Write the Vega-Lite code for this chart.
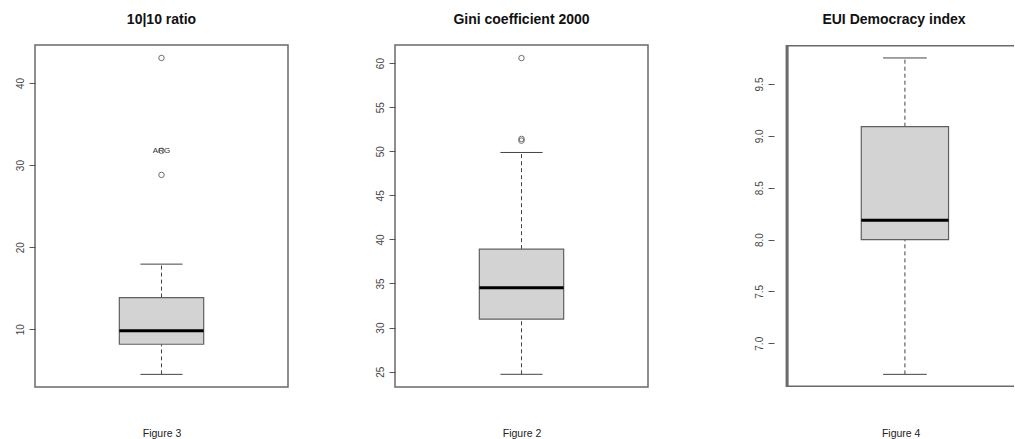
{
  "$schema": "https://vega.github.io/schema/vega-lite/v6.json",
  "padding": {"left": 14, "top": 12, "right": 0, "bottom": 0},
  "background": "white",
  "config": {
    "font": "Liberation Sans",
    "view": {"stroke": "#6a6a6a", "strokeWidth": 1.5},
    "title": {"fontSize": 14, "fontWeight": "bold", "font": "Liberation Sans", "color": "#111111", "offset": 18, "anchor": "middle"},
    "axisX": {"grid": false, "titleFontSize": 10.5, "titleFontWeight": "normal", "titleColor": "#222222", "titleFont": "Liberation Sans"},
    "axisY": {"domain": false, "grid": false, "tickSize": 6, "tickColor": "#555555", "tickWidth": 1, "labelAngle": -90, "labelColor": "#444444", "labelFontSize": 10, "labelPadding": 4, "labelFont": "Liberation Sans", "labelBaseline": "bottom", "labelAlign": "center"}
  },
  "spacing": 105,
  "hconcat": [
    {
      "spacing": 85,
      "hconcat": [
        {
          "width": 253, "height": 342,
          "title": "10|10 ratio",
          "data": {"values": [{"panel": "10|10 ratio", "lo": 4.5, "q1": 8.17, "med": 9.8, "q3": 13.85, "hi": 17.93}]},
          "layer": [
            {"mark": {"type": "rule", "strokeDash": [4, 3], "color": "#444444", "strokeWidth": 1},
             "encoding": {"x": {"datum": 1, "type": "quantitative", "scale": {"domain": [0.46, 1.54], "padding": 0}, "axis": {"title": "Figure 3", "domain": false, "ticks": false, "labels": false, "titlePadding": 41, "titleColor": "#222222", "titleFontWeight": "normal"}},
                          "y": {"field": "lo", "type": "quantitative", "scale": {"domain": [2.96, 44.63], "nice": false, "zero": false, "padding": 0}, "axis": {"values": [10, 20, 30, 40]}, "title": null},
                          "y2": {"field": "q1"}}},
            {"mark": {"type": "rule", "strokeDash": [4, 3], "color": "#444444", "strokeWidth": 1},
             "encoding": {"x": {"datum": 1, "type": "quantitative"},
                          "y": {"field": "q3", "type": "quantitative", "title": null},
                          "y2": {"field": "hi"}}},
            {"mark": {"type": "rule", "color": "#444444", "strokeWidth": 1},
             "encoding": {"x": {"datum": 0.9, "type": "quantitative"}, "x2": {"datum": 1.1},
                          "y": {"field": "lo", "type": "quantitative", "title": null}}},
            {"mark": {"type": "rule", "color": "#444444", "strokeWidth": 1},
             "encoding": {"x": {"datum": 0.9, "type": "quantitative"}, "x2": {"datum": 1.1},
                          "y": {"field": "hi", "type": "quantitative", "title": null}}},
            {"mark": {"type": "rect", "fill": "#d3d3d3", "stroke": "#606060", "strokeWidth": 1.2},
             "encoding": {"x": {"datum": 0.8, "type": "quantitative"}, "x2": {"datum": 1.2},
                          "y": {"field": "q1", "type": "quantitative", "title": null}, "y2": {"field": "q3"}}},
            {"mark": {"type": "rule", "color": "#000000", "strokeWidth": 3},
             "encoding": {"x": {"datum": 0.8, "type": "quantitative"}, "x2": {"datum": 1.2},
                          "y": {"field": "med", "type": "quantitative", "title": null}}},
            {"data": {"values": [{"value": 43.05}, {"value": 31.74}, {"value": 28.8}]},
             "mark": {"type": "point", "shape": "circle", "filled": false, "size": 30, "stroke": "#333333", "strokeWidth": 1},
             "encoding": {"x": {"datum": 1, "type": "quantitative"},
                          "y": {"field": "value", "type": "quantitative", "title": null}}},
            {"data": {"values": [{"value": 31.74, "label": "ARG"}]},
             "mark": {"type": "text", "fontSize": 8, "color": "#333333", "align": "center", "baseline": "middle", "font": "Liberation Sans"},
             "encoding": {"x": {"datum": 1, "type": "quantitative"},
                          "y": {"field": "value", "type": "quantitative", "title": null},
                          "text": {"field": "label"}}}
          ]
        },
        {
          "width": 253, "height": 342,
          "title": "Gini coefficient 2000",
          "data": {"values": [{"panel": "Gini coefficient 2000", "lo": 24.7, "q1": 30.95, "med": 34.53, "q3": 38.89, "hi": 49.86}]},
          "layer": [
            {"mark": {"type": "rule", "strokeDash": [4, 3], "color": "#444444", "strokeWidth": 1},
             "encoding": {"x": {"datum": 1, "type": "quantitative", "scale": {"domain": [0.46, 1.54], "padding": 0}, "axis": {"title": "Figure 2", "domain": false, "ticks": false, "labels": false, "titlePadding": 41, "titleColor": "#222222", "titleFontWeight": "normal"}},
                          "y": {"field": "lo", "type": "quantitative", "scale": {"domain": [23.26, 62.05], "nice": false, "zero": false, "padding": 0}, "axis": {"values": [25, 30, 35, 40, 45, 50, 55, 60]}, "title": null},
                          "y2": {"field": "q1"}}},
            {"mark": {"type": "rule", "strokeDash": [4, 3], "color": "#444444", "strokeWidth": 1},
             "encoding": {"x": {"datum": 1, "type": "quantitative"},
                          "y": {"field": "q3", "type": "quantitative", "title": null},
                          "y2": {"field": "hi"}}},
            {"mark": {"type": "rule", "color": "#444444", "strokeWidth": 1},
             "encoding": {"x": {"datum": 0.9, "type": "quantitative"}, "x2": {"datum": 1.1},
                          "y": {"field": "lo", "type": "quantitative", "title": null}}},
            {"mark": {"type": "rule", "color": "#444444", "strokeWidth": 1},
             "encoding": {"x": {"datum": 0.9, "type": "quantitative"}, "x2": {"datum": 1.1},
                          "y": {"field": "hi", "type": "quantitative", "title": null}}},
            {"mark": {"type": "rect", "fill": "#d3d3d3", "stroke": "#606060", "strokeWidth": 1.2},
             "encoding": {"x": {"datum": 0.8, "type": "quantitative"}, "x2": {"datum": 1.2},
                          "y": {"field": "q1", "type": "quantitative", "title": null}, "y2": {"field": "q3"}}},
            {"mark": {"type": "rule", "color": "#000000", "strokeWidth": 3},
             "encoding": {"x": {"datum": 0.8, "type": "quantitative"}, "x2": {"datum": 1.2},
                          "y": {"field": "med", "type": "quantitative", "title": null}}},
            {"data": {"values": [{"value": 60.57}, {"value": 51.2}, {"value": 51.4}]},
             "mark": {"type": "point", "shape": "circle", "filled": false, "size": 30, "stroke": "#333333", "strokeWidth": 1},
             "encoding": {"x": {"datum": 1, "type": "quantitative"},
                          "y": {"field": "value", "type": "quantitative", "title": null}}}
          ]
        }
      ]
    },
    {
      "width": 240, "height": 342,
      "view": {"stroke": null},
      "title": "EUI Democracy index",
      "data": {"values": [{"panel": "EUI Democracy index", "lo": 6.7, "q1": 8.0, "med": 8.187, "q3": 9.088, "hi": 9.751}]},
      "layer": [
        {"mark": {"type": "rule", "strokeDash": [4, 3], "color": "#444444", "strokeWidth": 1},
         "encoding": {"x": {"datum": 1, "type": "quantitative", "scale": {"domain": [0.46, 1.4845], "padding": 0}, "axis": {"title": "Figure 4", "domain": false, "ticks": false, "labels": false, "titlePadding": 41, "titleColor": "#222222", "titleFontWeight": "normal", "titleX": 126.7}},
                      "y": {"field": "lo", "type": "quantitative", "scale": {"domain": [6.578, 9.876], "nice": false, "zero": false, "padding": 0}, "axis": {"values": [7, 7.5, 8, 8.5, 9, 9.5], "format": ".1f"}, "title": null},
                      "y2": {"field": "q1"}}},
        {"mark": {"type": "rect", "fill": null, "stroke": "#6a6a6a", "strokeWidth": 3, "clip": true},
         "encoding": {"x": {"datum": 0.46, "type": "quantitative"}, "x2": {"datum": 1.6},
                      "y": {"datum": 6.578, "type": "quantitative"}, "y2": {"datum": 9.876}}},
        {"mark": {"type": "rule", "strokeDash": [4, 3], "color": "#444444", "strokeWidth": 1},
         "encoding": {"x": {"datum": 1, "type": "quantitative"},
                      "y": {"field": "q3", "type": "quantitative", "title": null},
                      "y2": {"field": "hi"}}},
        {"mark": {"type": "rule", "color": "#444444", "strokeWidth": 1},
         "encoding": {"x": {"datum": 0.9, "type": "quantitative"}, "x2": {"datum": 1.1},
                      "y": {"field": "lo", "type": "quantitative", "title": null}}},
        {"mark": {"type": "rule", "color": "#444444", "strokeWidth": 1},
         "encoding": {"x": {"datum": 0.9, "type": "quantitative"}, "x2": {"datum": 1.1},
                      "y": {"field": "hi", "type": "quantitative", "title": null}}},
        {"mark": {"type": "rect", "fill": "#d3d3d3", "stroke": "#606060", "strokeWidth": 1.2},
         "encoding": {"x": {"datum": 0.8, "type": "quantitative"}, "x2": {"datum": 1.2},
                      "y": {"field": "q1", "type": "quantitative", "title": null}, "y2": {"field": "q3"}}},
        {"mark": {"type": "rule", "color": "#000000", "strokeWidth": 3},
         "encoding": {"x": {"datum": 0.8, "type": "quantitative"}, "x2": {"datum": 1.2},
                      "y": {"field": "med", "type": "quantitative", "title": null}}}
      ]
    }
  ]
}
